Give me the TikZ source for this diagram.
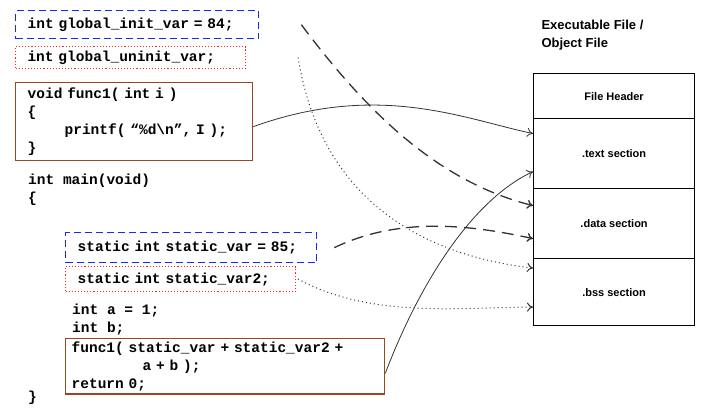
\documentclass[tikz,border=0pt]{standalone}
\usepackage{fontspec}
\setmainfont{Liberation Sans}
\newfontfamily\codefont[WordSpace={1,0,0}]{Liberation Mono}
\usetikzlibrary{arrows.meta,positioning}
\definecolor{boxblue}{RGB}{20,40,245}
\definecolor{boxred}{RGB}{240,40,40}
\definecolor{boxbrown}{RGB}{160,70,30}
\tikzset{
  code/.style={font=\codefont\bfseries\fontsize{14.5}{18}\selectfont,anchor=north west,align=left,inner xsep=12pt,inner ysep=3pt},
  initbox/.style={code,draw=boxblue,dash pattern=on 7pt off 4pt,line width=1.3pt},
  uninitbox/.style={code,draw=boxred,dotted,line width=1.1pt},
  funcbox/.style={code,draw=boxbrown,line width=1.3pt},
  row/.style={draw,line width=1.2pt,minimum width=161pt,anchor=north west,font=\bfseries\fontsize{11}{13}\selectfont},
  link/.style={-{To[length=6pt,width=9pt]},line width=0.8pt,black!80},
  dashlink/.style={link,line width=1.3pt,dash pattern=on 12pt off 7pt},
  dotlink/.style={link,line width=1pt,dash pattern=on 1pt off 3pt},
}
\begin{document}
\begin{tikzpicture}[x=1pt,y=-1pt]
  \useasboundingbox (0,0) rectangle (717,409);
  % source code side
  \node[initbox,minimum width=243pt,minimum height=28pt,text width=219pt] (ginit) at (15,10) {int global\_init\_var = 84;};
  \node[uninitbox,minimum width=230pt,minimum height=22pt,text width=206pt] (guninit) at (15,46) {int global\_uninit\_var;};
  \node[funcbox,minimum width=237pt,minimum height=78pt,text width=225pt,inner xsep=6pt] (func) at (15,82)
    {\hspace*{6pt}void func1( int i )\\\hspace*{6pt}\{\\\hspace*{43pt}printf( “\%d\textbackslash n”, I );\\\hspace*{6pt}\}};
  \node[code,inner xsep=0pt] (mainhead) at (28,171) {int main(void)\\\{};
  \node[initbox,minimum width=251pt,minimum height=30pt,text width=227pt] (sinit) at (65,232) {static int static\_var = 85;};
  \node[uninitbox,minimum width=230pt,minimum height=25pt,text width=206pt] (suninit) at (65,266) {static int static\_var2;};
  \node[code,inner xsep=0pt] (locals) at (72,301) {int a = 1;\\int b;};
  \node[funcbox,minimum width=319pt,minimum height=54pt,text width=307pt,inner xsep=6pt] (call) at (65,338)
    {func1( static\_var + static\_var2 +\\\hspace*{71pt}a + b );\\return 0;};
  \node[code,inner xsep=0pt] (mainend) at (28,388) {\}};
  % object file side
  \node[font=\bfseries\fontsize{13}{18}\selectfont,align=left,anchor=north west] (title) at (538,17) {Executable File /\\Object File};
  \node[row,minimum height=45pt] (header) at (533,73) {File Header};
  \node[row,minimum height=70pt] (text) at (533,118) {.text section};
  \node[row,minimum height=70pt] (data) at (533,188) {.data section};
  \node[row,minimum height=67pt] (bss) at (533,258) {.bss section};
  % where things go
  \draw[link] ([yshift=-5pt]func.east) .. controls +(125,-45) and +(-70,-15) .. ([yshift=20pt]text.west);
  \draw[dashlink] ([xshift=42pt]ginit.east) .. controls +(60,80) and +(-100,-25) .. ([yshift=18pt]data.west);
  \draw[dotlink] ([xshift=52pt]guninit.east) .. controls +(23,143) and +(-110,-13) .. ([yshift=24pt]bss.west);
  \draw[dashlink] ([xshift=17pt]sinit.east) .. controls +(67,-32) and +(-60,-13) .. ([yshift=-15pt]data.west);
  \draw[dotlink] ([xshift=2pt]suninit.east) .. controls +(73,40) and +(-70,0) .. ([yshift=-15pt]bss.west);
  \draw[link] ([yshift=-7pt]call.east) .. controls +(35,-92) and +(-60,28) .. ([yshift=-18pt]text.west);
\end{tikzpicture}
\end{document}
